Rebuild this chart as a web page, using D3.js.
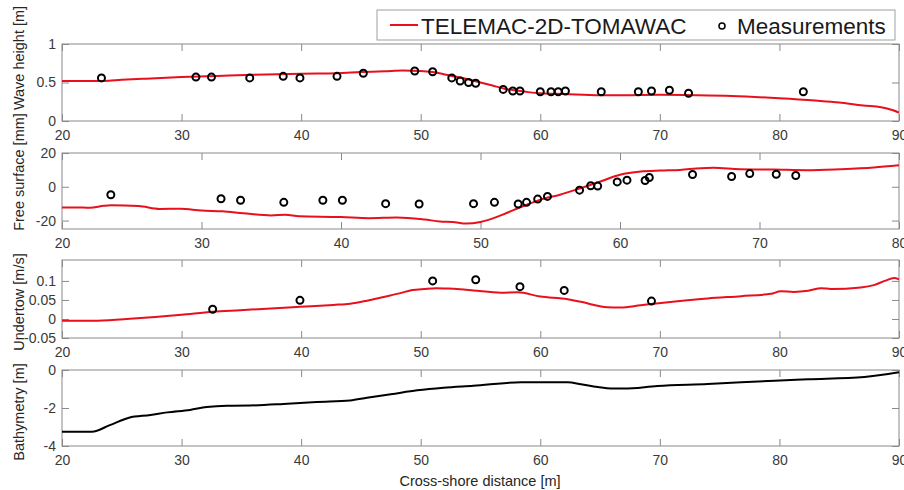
<!DOCTYPE html>
<html><head><meta charset="utf-8">
<script src="https://cdn.jsdelivr.net/npm/d3@7"></script>
<style>
body{margin:0;background:#fff;}
svg{display:block;font-family:"Liberation Sans",Arial,sans-serif;}
</style></head>
<body><svg id="chart" width="904" height="490"></svg>
<script>
// ---------- DATA ----------
const seriesNames = ["TELEMAC-2D-TOMAWAC", "Measurements"];
const xLabel = "Cross-shore distance [m]";
const panelLabels = ["Wave height [m]", "Free surface [mm]", "Undertow [m/s]", "Bathymetry [m]"];
const xTicksA = [20, 30, 40, 50, 60, 70, 80, 90];
const xTicksB = [20, 30, 40, 50, 60, 70, 80];
const yTicksWave = [0, 0.5, 1];
const yTicksFree = [-20, 0, 20];
const yTicksUnder = [-0.05, 0, 0.05, 0.1];
const yTicksBath = [-4, -2, 0];

// Wave height model
const waveModelX = [20, 22, 23.5, 25, 27, 30, 33, 36, 40, 43, 45, 47, 48.5, 50, 51, 52, 53, 54, 55, 56, 57, 58, 59, 60, 62, 65, 67, 70, 73, 76, 80, 83, 85, 87, 88.5, 89.5, 90];
const waveModelY = [0.52, 0.52, 0.52, 0.535, 0.55, 0.57, 0.585, 0.60, 0.615, 0.62, 0.635, 0.645, 0.655, 0.65, 0.635, 0.605, 0.575, 0.54, 0.50, 0.46, 0.42, 0.395, 0.375, 0.36, 0.35, 0.335, 0.335, 0.34, 0.335, 0.325, 0.295, 0.265, 0.24, 0.20, 0.18, 0.14, 0.11];
// Wave height measurements
const waveMeasX = [23.3, 31.2, 32.5, 35.7, 38.5, 39.9, 43.0, 45.2, 49.5, 51.0, 52.6, 53.3, 54.0, 54.6, 56.9, 57.7, 58.3, 60.0, 60.9, 61.5, 62.1, 65.1, 68.2, 69.3, 70.8, 72.4, 82.0];
const waveMeasY = [0.56, 0.57, 0.57, 0.56, 0.58, 0.56, 0.58, 0.62, 0.65, 0.64, 0.56, 0.52, 0.50, 0.49, 0.41, 0.39, 0.39, 0.38, 0.38, 0.38, 0.39, 0.38, 0.38, 0.39, 0.40, 0.36, 0.38];

// Free surface model
const freeModelX = [20, 21, 22, 23, 23.5, 25.5, 27, 28.5, 30, 31.5, 33, 35, 36, 37, 40, 42, 44, 46, 47.1, 48, 49, 50, 51.4, 52.9, 54.3, 55.7, 57.2, 58.6, 60, 61.5, 62.9, 64.3, 65.8, 66.7, 68.6, 71, 73.4, 75.8, 78.2, 80];
const freeModelY = [-12.2, -12.2, -12.4, -11.3, -11.0, -11.4, -13.1, -13.0, -14.1, -14.5, -15.7, -17.0, -16.5, -17.5, -17.9, -18.6, -18.2, -19.4, -20.5, -20.8, -21.8, -20.8, -17.1, -12.0, -7.6, -4.7, -0.8, 3.1, 7.1, 9.0, 9.6, 10.0, 11.0, 11.2, 10.4, 10.2, 9.8, 10.4, 11.4, 12.7];
// Free surface measurements
const freeMeasX = [23.5, 31.4, 32.8, 35.9, 38.7, 40.1, 43.2, 45.6, 49.5, 51.0, 52.7, 53.3, 54.1, 54.8, 57.1, 57.9, 58.4, 59.8, 60.5, 61.8, 62.1, 65.2, 68.0, 69.3, 71.2, 72.6];
const freeMeasY = [-4.7, -7.1, -8.0, -9.2, -8.0, -8.0, -10.0, -10.2, -10.0, -9.2, -10.2, -9.2, -7.3, -5.7, -2.0, 0.6, 0.4, 2.9, 3.9, 3.7, 5.5, 7.3, 6.1, 7.8, 7.4, 6.7];

// Undertow model
const underModelX = [20, 23, 26, 30, 32.6, 34.9, 37.1, 39.9, 42.7, 44.1, 45.5, 46.9, 48.3, 49.3, 50.3, 51.3, 52.3, 53.3, 54.4, 56.7, 58.1, 60, 62.3, 63.4, 65.6, 66.7, 68.4, 70.1, 74, 76.8, 79.3, 80.1, 81.2, 82.4, 83.5, 84.3, 86.8, 87.9, 88.8, 89.6, 90];
const underModelY = [-0.0045, -0.0045, 0.001, 0.011, 0.019, 0.023, 0.027, 0.032, 0.037, 0.040, 0.048, 0.058, 0.068, 0.076, 0.079, 0.081, 0.080, 0.078, 0.075, 0.069, 0.070, 0.059, 0.052, 0.045, 0.031, 0.030, 0.036, 0.042, 0.054, 0.060, 0.066, 0.073, 0.071, 0.074, 0.081, 0.079, 0.083, 0.089, 0.100, 0.108, 0.104];
// Undertow measurements
const underMeasX = [32.6, 39.9, 51.0, 54.6, 58.3, 62.0, 69.3];
const underMeasY = [0.0255, 0.049, 0.100, 0.103, 0.085, 0.075, 0.047];

// Bathymetry
const bathX = [20, 22.5, 24, 25.6, 27.4, 28.8, 30.7, 32.1, 33.8, 35.7, 38.5, 41.3, 44.1, 45.5, 47.5, 49.7, 51.9, 54.4, 58.4, 62.3, 63.4, 64.8, 65.9, 67.0, 69.8, 74, 79.6, 82.4, 87.1, 90];
const bathY = [-3.25, -3.25, -2.9, -2.51, -2.37, -2.23, -2.1, -1.95, -1.88, -1.87, -1.79, -1.68, -1.6, -1.46, -1.28, -1.07, -0.93, -0.83, -0.65, -0.65, -0.75, -0.89, -0.98, -0.98, -0.84, -0.74, -0.56, -0.49, -0.37, -0.12];

// ---------- DRAW ----------
const svg = d3.select("#chart");
const RED = "#e8101c";
const AXIS = "#8a8a8a";
const TXT = "#3a3a3a";
const left = 62, right = 899;

const panels = [
  {top: 44, bottom: 121, xd: [20, 90], xt: xTicksA, yd: [0, 1], yt: yTicksWave,
   model: [waveModelX, waveModelY], meas: [waveMeasX, waveMeasY], color: RED, label: panelLabels[0], labelY: 58},
  {top: 153, bottom: 229, xd: [20, 80], xt: xTicksB, yd: [-25, 20], yt: yTicksFree,
   model: [freeModelX, freeModelY], meas: [freeMeasX, freeMeasY], color: RED, label: panelLabels[1], labelY: 172},
  {top: 260, bottom: 338, xd: [20, 90], xt: xTicksA, yd: [-0.05, 0.155], yt: yTicksUnder,
   model: [underModelX, underModelY], meas: [underMeasX, underMeasY], color: RED, label: panelLabels[2], labelY: 302},
  {top: 370, bottom: 446, xd: [20, 90], xt: xTicksA, yd: [-4, 0], yt: yTicksBath,
   model: [bathX, bathY], meas: null, color: "#000", label: panelLabels[3], labelY: 412}
];

const fmt = d => String(d);

panels.forEach((p, i) => {
  const x = d3.scaleLinear().domain(p.xd).range([left, right]);
  const y = d3.scaleLinear().domain(p.yd).range([p.bottom, p.top]);
  const g = svg.append("g");

  // clip
  const cid = "clip" + i;
  svg.append("clipPath").attr("id", cid).append("rect")
    .attr("x", left).attr("y", p.top).attr("width", right - left).attr("height", p.bottom - p.top);

  // axes
  const styleAxis = sel => {
    sel.select(".domain").remove();
    sel.selectAll(".tick line").attr("stroke", AXIS).attr("stroke-width", 1);
    sel.selectAll(".tick text").attr("fill", TXT).style("font-size", "14px")
      .style("font-family", '"Liberation Sans",Arial,sans-serif');
  };
  g.append("g").attr("transform", `translate(0,${p.bottom})`)
    .call(d3.axisBottom(x).tickValues(p.xt).tickFormat(fmt).tickSizeInner(-7).tickSizeOuter(0).tickPadding(9))
    .call(styleAxis);
  g.append("g").attr("transform", `translate(0,${p.top})`)
    .call(d3.axisTop(x).tickValues(p.xt).tickFormat("").tickSizeInner(-7).tickSizeOuter(0))
    .call(styleAxis);
  g.append("g").attr("transform", `translate(${left},0)`)
    .call(d3.axisLeft(y).tickValues(p.yt).tickFormat(fmt).tickSizeInner(-7).tickSizeOuter(0).tickPadding(6))
    .call(styleAxis);
  g.append("g").attr("transform", `translate(${right},0)`)
    .call(d3.axisRight(y).tickValues(p.yt).tickFormat("").tickSizeInner(-7).tickSizeOuter(0))
    .call(styleAxis);

  g.append("rect").attr("x", left).attr("y", p.top).attr("width", right - left).attr("height", p.bottom - p.top)
    .attr("fill", "none").attr("stroke", AXIS).attr("stroke-width", 1);

  // model line
  const pts = p.model[0].map((v, k) => [v, p.model[1][k]]);
  g.append("path").datum(pts)
    .attr("clip-path", `url(#${cid})`)
    .attr("d", d3.line().x(d => x(d[0])).y(d => y(d[1])).curve(d3.curveMonotoneX))
    .attr("fill", "none").attr("stroke", p.color).attr("stroke-width", 2);

  // measurements
  if (p.meas) {
    const mp = p.meas[0].map((v, k) => [v, p.meas[1][k]]);
    g.selectAll("circle.m").data(mp).join("circle")
      .attr("cx", d => x(d[0])).attr("cy", d => y(d[1])).attr("r", 3.5)
      .attr("fill", "none").attr("stroke", "#000").attr("stroke-width", 2);
  }

  // y label
  svg.append("text").attr("transform", `translate(19,${p.labelY}) rotate(-90)`)
    .attr("text-anchor", "middle").attr("dominant-baseline", "central")
    .attr("fill", "#262626").style("font-size", "14.5px").text(p.label);
});

// x label
svg.append("text").attr("x", 480).attr("y", 486).attr("text-anchor", "middle")
  .attr("fill", "#262626").style("font-size", "14.5px").text(xLabel);

// legend
const lg = svg.append("g");
lg.append("rect").attr("x", 377).attr("y", 10).attr("width", 518).attr("height", 30)
  .attr("fill", "#fff").attr("stroke", "#a0a0a0").attr("stroke-width", 1);
lg.append("line").attr("x1", 390).attr("x2", 418).attr("y1", 25).attr("y2", 25)
  .attr("stroke", RED).attr("stroke-width", 2);
lg.append("text").attr("x", 421).attr("y", 33.5).attr("fill", "#1a1a1a")
  .style("font-size", "22.5px").text(seriesNames[0]);
lg.append("circle").attr("cx", 722).attr("cy", 26).attr("r", 3)
  .attr("fill", "none").attr("stroke", "#000").attr("stroke-width", 1.5);
lg.append("text").attr("x", 737).attr("y", 33.5).attr("fill", "#1a1a1a")
  .style("font-size", "22.5px").text(seriesNames[1]);
</script>
</body></html>
